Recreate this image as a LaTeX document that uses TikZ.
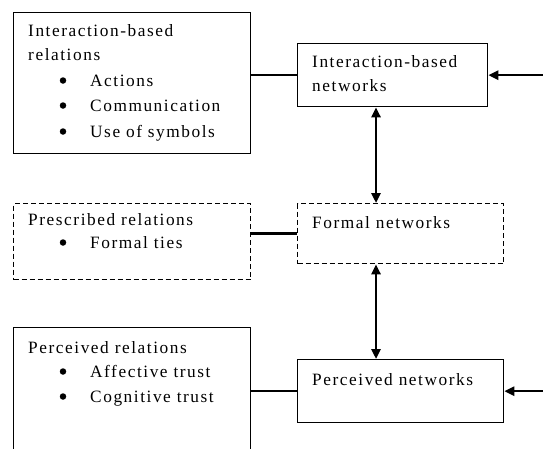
\documentclass[tikz,border=0pt]{standalone}
\usepackage{fontspec}
\setmainfont[LetterSpace=9]{Liberation Serif}
\usetikzlibrary{arrows.meta}
\begin{document}
\begin{tikzpicture}[x=1pt,y=-1pt,
  box/.style={draw, line width=1.3pt, inner sep=0pt, anchor=north west},
  dbox/.style={box, dash pattern=on 5pt off 3pt},
  lbl/.style={anchor=base west, inner sep=0pt, font=\fontsize{17.3}{20}\selectfont},
  bul/.style={circle, fill, inner sep=0pt, minimum size=6.5pt},
  link/.style={line width=2.6pt},
  tip/.tip={Triangle[length=10pt,width=9pt]},
  arr/.style={line width=2.6pt, -tip},
  darr/.style={line width=2.6pt, tip-tip},
]
\useasboundingbox (0,0) rectangle (543,448);

% boxes
\node[box, minimum width=237pt, minimum height=141pt] (irel) at (13,12) {};
\node[box, minimum width=190pt, minimum height=63pt] (inet) at (297,43) {};
\node[dbox, minimum width=237pt, minimum height=76pt] (prel) at (13,203) {};
\node[dbox, minimum width=206pt, minimum height=60pt] (fnet) at (297,203) {};
\node[box, minimum width=237pt, minimum height=141pt] (perel) at (13,327) {};
\node[box, minimum width=206pt, minimum height=63pt] (penet) at (297,359) {};

% texts
\node[lbl] (t1) at (28,36) {Interaction-based};
\node[lbl] (t2) at (28,60) {relations};
\node[bul] (b1) at (63,80.5) {};
\node[lbl] (t3) at (90,86) {Actions};
\node[bul] (b2) at (63,105.5) {};
\node[lbl] (t4) at (90,111) {Communication};
\node[bul] (b3) at (63,131.5) {};
\node[lbl] (t5) at (90,137) {Use of symbols};

\node[lbl] (t6) at (312,67) {Interaction-based};
\node[lbl] (t7) at (312,91) {networks};

\node[lbl] (t8) at (28,225) {Prescribed relations};
\node[bul] (b4) at (63,242.5) {};
\node[lbl] (t9) at (90,248) {Formal ties};

\node[lbl] (t10) at (312,228) {Formal networks};

\node[lbl] (t11) at (28,353) {Perceived relations};
\node[bul] (b5) at (63,371.5) {};
\node[lbl] (t12) at (90,377) {Affective trust};
\node[bul] (b6) at (63,396.5) {};
\node[lbl] (t13) at (90,402) {Cognitive trust};

\node[lbl] (t14) at (312,385) {Perceived networks};

% connectors
\coordinate (redge) at (543,0);
\coordinate (vx) at (376,0);
\draw[link] (irel.east |- inet.west) -- (inet.west);
\draw[link] (prel.east |- fnet.west) -- (fnet.west);
\draw[link] (perel.east |- penet.west) -- (penet.west);
\draw[arr] (redge |- inet.east) -- (inet.east);
\draw[arr] (redge |- penet.east) -- (penet.east);
\draw[darr] (vx |- inet.south) -- (vx |- fnet.north);
\draw[darr] (vx |- fnet.south) -- (vx |- penet.north);
\end{tikzpicture}
\end{document}
